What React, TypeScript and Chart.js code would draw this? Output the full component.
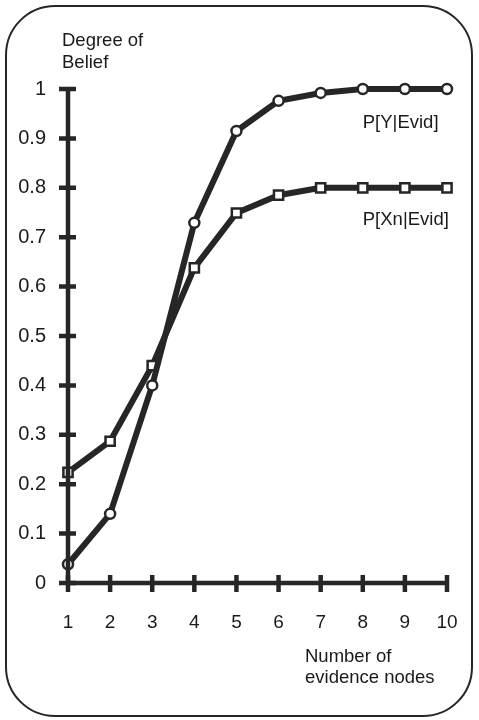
import React, { useEffect, useRef } from "react";
import { Chart, registerables } from "chart.js";

Chart.register(...registerables);

const evidenceNodes = [1, 2, 3, 4, 5, 6, 7, 8, 9, 10];
const pY = [0.038, 0.14, 0.4, 0.729, 0.915, 0.976, 0.992, 1.0, 1.0, 1.0];
const pXn = [0.224, 0.287, 0.44, 0.638, 0.749, 0.785, 0.8, 0.8, 0.8, 0.8];
const yTicks = [0, 0.1, 0.2, 0.3, 0.4, 0.5, 0.6, 0.7, 0.8, 0.9, 1];
const seriesNames = ["P[Y|Evid]", "P[Xn|Evid]"];
const yTitle = ["Degree of", "Belief"];
const xTitle = ["Number of", "evidence nodes"];

const INK = "#262626";
const TEXT = "#1a1a1a";
const FONT = "'Liberation Sans', Arial, sans-serif";

const crossTicks = {
  id: "crossTicks",
  afterDatasetsDraw(chart: any) {
    const { ctx, chartArea, scales } = chart;
    const x = scales.x;
    const y = scales.y;
    ctx.save();
    ctx.strokeStyle = INK;
    ctx.lineWidth = 4.5;
    ctx.lineCap = "butt";
    ctx.beginPath();
    ctx.moveTo(chartArea.left, chartArea.top - 2);
    ctx.lineTo(chartArea.left, chartArea.bottom);
    ctx.moveTo(chartArea.left - 2, chartArea.bottom);
    ctx.lineTo(chartArea.right, chartArea.bottom);
    ctx.stroke();
    ctx.beginPath();
    yTicks.forEach((v) => {
      const py = y.getPixelForValue(v);
      ctx.moveTo(chartArea.left - 9, py);
      ctx.lineTo(chartArea.left + 8, py);
    });
    evidenceNodes.forEach((v) => {
      const px = x.getPixelForValue(v);
      ctx.moveTo(px, chartArea.bottom - 8);
      ctx.lineTo(px, chartArea.bottom + 9);
    });
    ctx.stroke();
    ctx.restore();
  },
  afterDraw(chart: any) {
    const { ctx, scales } = chart;
    const x = scales.x;
    const y = scales.y;
    ctx.save();
    ctx.fillStyle = TEXT;
    ctx.font = `18.5px ${FONT}`;
    ctx.textAlign = "left";
    ctx.textBaseline = "middle";
    ctx.fillText(yTitle[0], 62, 41);
    ctx.fillText(yTitle[1], 62, 63);
    ctx.fillText(xTitle[0], 305, 657);
    ctx.fillText(xTitle[1], 305, 678);
    ctx.fillText(seriesNames[0], x.getPixelForValue(8.0), y.getPixelForValue(0.931));
    ctx.fillText(seriesNames[1], x.getPixelForValue(8.0), y.getPixelForValue(0.735));
    ctx.restore();
  },
};

export default function App() {
  const ref = useRef<HTMLCanvasElement | null>(null);
  useEffect(() => {
    document.body.style.margin = "0";
    const canvas = ref.current!;
    const chart = new Chart(canvas, {
      type: "line",
      data: {
        labels: evidenceNodes,
        datasets: [
          {
            label: seriesNames[0],
            data: evidenceNodes.map((n, i) => ({ x: n, y: pY[i] })),
            borderColor: INK,
            borderWidth: 6,
            pointStyle: "circle",
            pointRadius: 5,
            pointBorderWidth: 2.5,
            pointBackgroundColor: "#ffffff",
            pointBorderColor: INK,
            tension: 0,
            clip: false as any,
          },
          {
            label: seriesNames[1],
            data: evidenceNodes.map((n, i) => ({ x: n, y: pXn[i] })),
            borderColor: INK,
            borderWidth: 6,
            pointStyle: "rect",
            pointRadius: 6.5,
            pointBorderWidth: 2.5,
            pointBackgroundColor: "#ffffff",
            pointBorderColor: INK,
            tension: 0,
            clip: false as any,
          },
        ],
      },
      options: {
        animation: false,
        responsive: false,
        layout: { padding: { left: 0, top: 89, right: 32, bottom: 0 } },
        plugins: { legend: { display: false }, tooltip: { enabled: false } },
        scales: {
          x: {
            type: "linear",
            min: 1,
            max: 10,
            afterFit: (s: any) => {
              s.height = 137;
              s.paddingLeft = 0;
              s.paddingRight = 0;
            },
            grid: { display: false, drawTicks: false },
            border: { display: false },
            ticks: {
              stepSize: 1,
              padding: 28,
              color: TEXT,
              font: { family: FONT, size: 19 },
            },
          },
          y: {
            min: 0,
            max: 1,
            afterFit: (s: any) => {
              s.width = 68;
              s.paddingTop = 0;
              s.paddingBottom = 0;
            },
            afterBuildTicks: (s: any) => {
              s.ticks = yTicks.map((v) => ({ value: v }));
            },
            grid: { display: false, drawTicks: false },
            border: { display: false },
            ticks: {
              padding: 22,
              color: TEXT,
              font: { family: FONT, size: 20 },
              callback: (v: any) => String(Math.round(Number(v) * 10) / 10),
            },
          },
        },
      },
      plugins: [crossTicks],
    });
    return () => chart.destroy();
  }, []);
  return (
    <div style={{ position: "relative", width: 479, height: 720, background: "#fff" }}>
      <div
        style={{
          position: "absolute",
          left: 5,
          top: 5,
          width: 464,
          height: 708,
          border: "2px solid #262626",
          borderRadius: 50,
        }}
      />
      <canvas ref={ref} width={479} height={720} style={{ position: "absolute", left: 0, top: 0 }} />
    </div>
  );
}
